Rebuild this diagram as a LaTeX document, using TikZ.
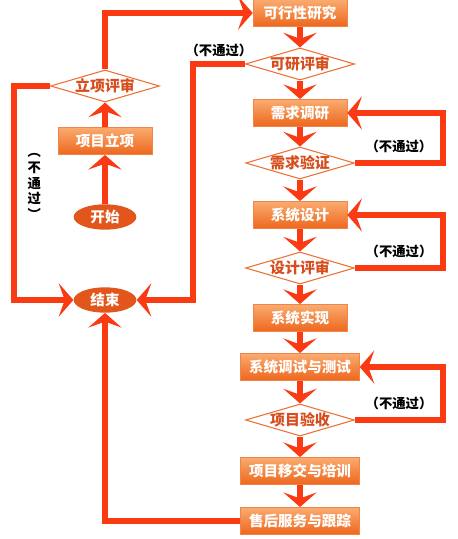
\documentclass[tikz,border=0pt]{standalone}
\usepackage{fontspec}
\setmainfont{Noto Sans CJK SC}
\usepackage{xcolor}
\definecolor{FlowRed}{RGB}{250,58,18}
\definecolor{BoxTop}{RGB}{250,172,112}
\definecolor{BoxBottom}{RGB}{238,102,28}
\definecolor{TermOrange}{RGB}{226,86,28}
\definecolor{DecLine}{RGB}{240,112,52}
\definecolor{DecText}{RGB}{214,78,30}
\usetikzlibrary{math,positioning,shapes.geometric,arrows.meta}
\tikzset{%
  px/.style={x=0.75pt,y=-0.75pt},
  stepbox/.style={rectangle, draw=BoxBottom!80!white, thin, top color=BoxTop, bottom color=BoxBottom,
    text=white, font=\bfseries\fontsize{10.9}{12}\selectfont,
    minimum width=70.5pt, minimum height=20.5pt, inner xsep=6.4pt, inner ysep=0pt},
  decision/.style={diamond, aspect=3.4, draw=DecLine, thick, fill=white, inner sep=0pt,
    text=DecText, font=\bfseries\fontsize{11.2}{12}\selectfont},
  terminal/.style={ellipse, fill=TermOrange, text=white, inner sep=0pt,
    minimum width=47pt, minimum height=19pt, font=\bfseries\fontsize{10.9}{12}\selectfont},
  flow/.style={draw=FlowRed, line width=4.5pt,
    -{Stealth[length=11pt, width=25pt, inset=4.5pt]}},
  nopass/.style={font=\bfseries\fontsize{10}{11}\selectfont, text=black}
}

\begin{document}
\begin{tikzpicture}[px]
    \useasboundingbox (0,0) rectangle (457,539);
    \tikzmath{
      \xl=105;% left column
      \xr=300;% right column
    }
    % Left column.
    \node[terminal] (start) at (\xl,217) {开始};
    \node[stepbox] (lixiang) at (\xl,141) {项目立项};
    \node[decision] (lxreview) at (\xl,86) {立项评审};
    \node[terminal] (finish) at (\xl,300) {结束};
    % Right column.
    \node[stepbox] (feasible) at (\xr,13) {可行性研究};
    \node[decision] (kyreview) at (\xr,64) {可研评审};
    \node[stepbox] (reqsurvey) at (\xr,113) {需求调研};
    \node[decision] (reqcheck) at (\xr,163) {需求验证};
    \node[stepbox] (sysdesign) at (\xr,215) {系统设计};
    \node[decision] (dsreview) at (\xr,268) {设计评审};
    \node[stepbox] (sysimpl) at (\xr,318) {系统实现};
    \node[stepbox] (systest) at (\xr,367) {系统调试与测试};
    \node[decision] (accept) at (\xr,420) {项目验收};
    \node[stepbox] (handover) at (\xr,471) {项目移交与培训};
    \node[stepbox] (service) at (\xr,521) {售后服务与跟踪};
    % Rails for the return paths.
    \coordinate (leftrail) at (14,0);
    \coordinate (midrail) at (193,0);
    \coordinate (rightrail) at (443,0);
    % Main flow.
    \draw[flow] (start) -- (lixiang);
    \draw[flow] (lixiang) -- (lxreview);
    \draw[flow] (lxreview.north) |- (feasible.west);
    \foreach \a/\b in {feasible/kyreview,kyreview/reqsurvey,reqsurvey/reqcheck,
      reqcheck/sysdesign,sysdesign/dsreview,dsreview/sysimpl,sysimpl/systest,
      systest/accept,accept/handover,handover/service}
      \draw[flow] (\a) -- (\b);
    % Failed reviews.
    \draw[flow] (lxreview.west) -- (lxreview.west -| leftrail)
      to node[nopass, right=8pt, pos=0.47, align=center, inner sep=0pt,
        font=\bfseries\fontsize{10}{11.8}\selectfont]
      {︵\\不\\通\\过\\︶}
      (finish.west -| leftrail) -- (finish.west);
    \draw[flow] (kyreview.west) -- node[nopass, above=0pt] {（不通过）}
      (kyreview.west -| midrail) |- (finish.east);
    \draw[flow] (reqcheck.east) -- node[nopass, above=2pt] {（不通过）}
      (reqcheck.east -| rightrail) |- (reqsurvey.east);
    \draw[flow] (dsreview.east) -- node[nopass, above=2pt] {（不通过）}
      (dsreview.east -| rightrail) |- (sysdesign.east);
    \draw[flow] (accept.east) -- node[nopass, above=2pt] {（不通过）}
      (accept.east -| rightrail) |- (systest.east);
    % Back to the end.
    \draw[flow] (service.west) -| (finish.south);
\end{tikzpicture}
\end{document}
